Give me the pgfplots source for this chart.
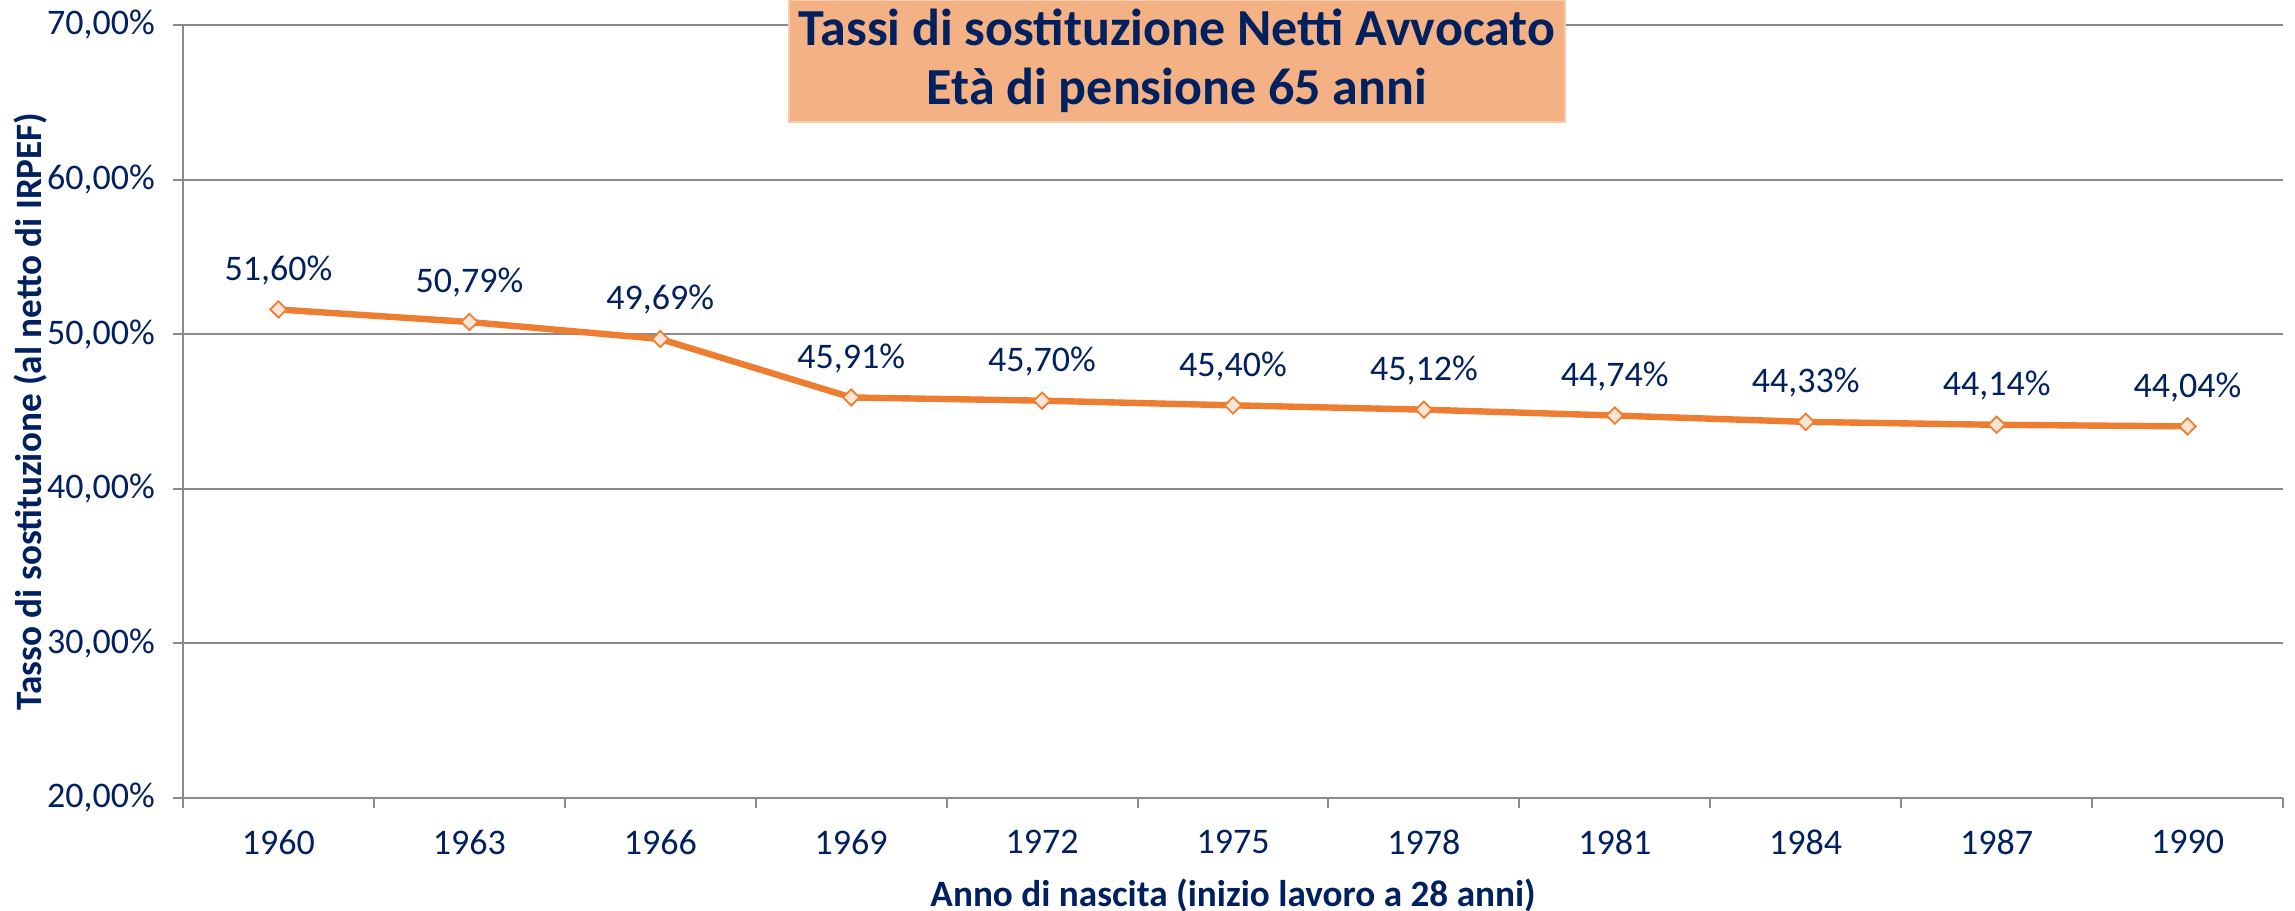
\documentclass[border=0pt]{standalone}
\usepackage{fontspec}
\setmainfont{Carlito}
\usepackage{pgfplots}
\pgfplotsset{compat=1.18}
\definecolor{navy}{HTML}{002060}
\definecolor{lineor}{HTML}{ED7D31}
\definecolor{markfill}{HTML}{FBE5D6}
\definecolor{gridgray}{HTML}{8A8A8A}
\definecolor{titlefill}{HTML}{F4B183}
\definecolor{titledraw}{HTML}{F8CBAD}
\begin{document}
\begin{tikzpicture}
\useasboundingbox (-45.75pt,-28.25pt) rectangle (528pt,199.5pt);
\begin{axis}[
  at={(0,0)}, anchor=south west,
  scale only axis,
  width=525pt, height=193.25pt,
  xmin=-0.5, xmax=10.5,
  ymin=20, ymax=70,
  axis x line=bottom, axis y line=left,
  axis line style={gridgray, line width=0.5pt, -},
  xtick={0,...,10},
  xticklabels={1960,1963,1966,1969,1972,1975,1978,1981,1984,1987,1990},
  minor xtick={-0.5,0.5,...,10.5},
  major x tick style={draw=none},
  minor x tick style={gridgray, line width=0.5pt},
  ytick={20,30,...,70},
  yticklabels={20{,}00\%,30{,}00\%,40{,}00\%,50{,}00\%,60{,}00\%,70{,}00\%},
  y tick style={gridgray, line width=0.5pt},
  tick align=outside,
  major tick length=2.5pt, minor tick length=2.5pt,
  ymajorgrids,
  grid style={gridgray, line width=0.5pt},
  ticklabel style={font=\fontsize{9}{10}\selectfont, text=navy},
  xticklabel style={yshift=-2pt},
  yticklabel style={xshift=-1pt},
  xlabel={Anno di nascita (inizio lavoro a 28 anni)},
  ylabel={Tasso di sostituzione (al netto di IRPEF)},
  label style={font=\bfseries\fontsize{9.3}{10}\selectfont, text=navy},
  xlabel style={at={(axis description cs:0.5,-0.126)}, anchor=center},
  ylabel style={at={(axis description cs:-0.0728,0.5)}, anchor=center},
  title={Tassi di sostituzione Netti Avvocato\\Età di pensione 65 anni},
  every axis title/.style={at={(axis description cs:0.4733,0.9534)}, anchor=center,
    fill=titlefill, draw=titledraw, line width=0.5pt,
    minimum width=194pt, minimum height=30.5pt, inner sep=0pt,
    align=center, text=navy,
    font=\bfseries\fontsize{13}{14.75}\selectfont},
  nodes near coords,
  point meta=explicit symbolic,
  every node near coord/.append style={font=\fontsize{9}{10}\selectfont, text=navy, anchor=base, yshift=7.3pt},
]
\addplot[lineor, line width=1.6pt, mark=square*, mark size=1.45pt,
  mark options={fill=markfill, draw=lineor, line width=0.45pt, rotate=45}]
  coordinates {
  (0,51.60) [51,60\%]
  (1,50.79) [50,79\%]
  (2,49.69) [49,69\%]
  (3,45.91) [45,91\%]
  (4,45.70) [45,70\%]
  (5,45.40) [45,40\%]
  (6,45.12) [45,12\%]
  (7,44.74) [44,74\%]
  (8,44.33) [44,33\%]
  (9,44.14) [44,14\%]
  (10,44.04) [44,04\%]
  };
\end{axis}
\end{tikzpicture}
\end{document}
